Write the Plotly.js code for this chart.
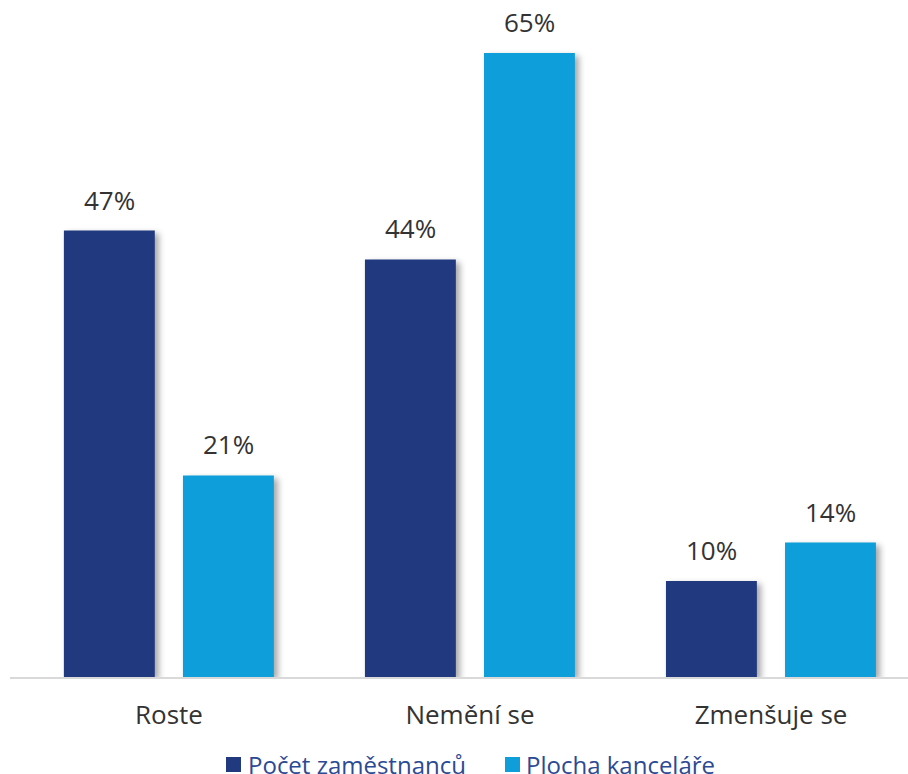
<!DOCTYPE html>
<html>
<head>
<meta charset="utf-8">
<script src="https://cdn.plot.ly/plotly-3.0.1.min.js"></script>
<style>
html,body{margin:0;padding:0;background:#fff;}
#chart{width:908px;height:774px;}
.trace.bars .point path{filter:drop-shadow(4px 3px 3px rgba(0,0,0,0.35));}
</style>
</head>
<body>
<div id="chart"></div>
<script>
const categories = ["Roste", "Nemění se", "Zmenšuje se"];
const seriesNames = ["Počet zaměstnanců", "Plocha kanceláře"];
const employees = [46.5, 43.5, 10];
const office = [21, 65, 14];

const colors = ["#21397f", "#0e9fda"];
const barWidth = 0.302;
const offsets = [-0.349, 0.0465];
const xIdx = categories.map((c, i) => i);

const traces = [employees, office].map((vals, s) => ({
  type: "bar",
  name: seriesNames[s],
  x: xIdx,
  y: vals,
  width: barWidth,
  offset: offsets[s],
  marker: {color: colors[s]},
  hoverinfo: "skip",
  showlegend: false
}));

const annotations = [];
[employees, office].forEach((vals, s) => {
  vals.forEach((v, i) => {
    annotations.push({
      x: i + offsets[s] + barWidth / 2,
      y: v,
      xref: "x", yref: "y",
      text: Math.round(v) + "%",
      showarrow: false,
      yanchor: "bottom",
      yshift: 11,
      font: {family: "Open Sans", size: 26, color: "#333333"}
    });
  });
});

// custom legend (pixel positions converted to paper coordinates)
const plotL = 10, plotW = 898, plotBottom = 677, plotH = 657;
const px = p => (p - plotL) / plotW;
const py = p => (plotBottom - p) / plotH;
const legendMarkerX = [226, 505];
const legendTextX = [246, 524];
const shapes = [];
seriesNames.forEach((name, s) => {
  shapes.push({
    type: "rect", xref: "paper", yref: "paper",
    x0: px(legendMarkerX[s]), x1: px(legendMarkerX[s] + 15),
    y0: py(772), y1: py(757),
    fillcolor: colors[s], line: {width: 0}
  });
  annotations.push({
    xref: "paper", yref: "paper",
    x: px(legendTextX[s]), y: py(764),
    xanchor: "left", yanchor: "middle",
    text: name, showarrow: false,
    font: {family: "Open Sans", size: 24, color: "#2c4a93"}
  });
});

const layout = {
  width: 908, height: 774,
  margin: {l: 10, r: 0, t: 20, b: 97, autoexpand: false},
  paper_bgcolor: "#ffffff",
  plot_bgcolor: "#ffffff",
  barmode: "overlay",
  showlegend: false,
  xaxis: {
    range: [-0.528, 2.455],
    tickvals: xIdx,
    ticktext: categories,
    showline: true,
    linecolor: "#d9d9d9",
    linewidth: 2,
    showgrid: false,
    zeroline: false,
    ticks: "outside",
    ticklen: 14,
    tickcolor: "rgba(0,0,0,0)",
    tickfont: {family: "Open Sans", size: 26, color: "#333333"}
  },
  yaxis: {
    range: [0, 68.44],
    visible: false,
    showgrid: false,
    zeroline: false
  },
  shapes: shapes,
  annotations: annotations
};

Plotly.newPlot("chart", traces, layout, {displayModeBar: false, staticPlot: true});
</script>
</body>
</html>
